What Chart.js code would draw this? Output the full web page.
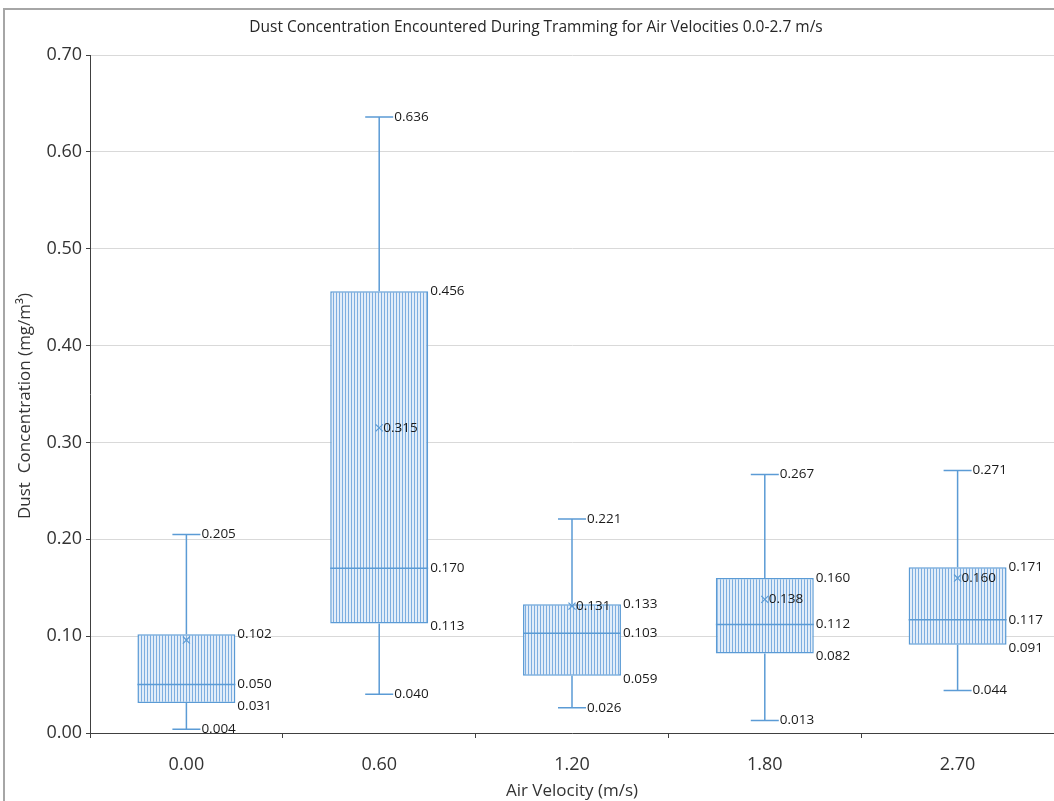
<!DOCTYPE html>
<html>
<head>
<meta charset="utf-8">
<script src="https://cdn.jsdelivr.net/npm/chart.js@4"></script>
<style>
  html, body { margin: 0; padding: 0; background: #fff; }
  #wrap { width: 1054px; height: 801px; }
</style>
</head>
<body>
<div id="wrap"><canvas id="boxChart" width="1054" height="801"></canvas></div>
<script>
const categories = ["0.00", "0.60", "1.20", "1.80", "2.70"];
const mins    = [0.004, 0.040, 0.026, 0.013, 0.044];
const q1s     = [0.031, 0.113, 0.059, 0.082, 0.091];
const medians = [0.050, 0.170, 0.103, 0.112, 0.117];
const q3s     = [0.102, 0.456, 0.133, 0.160, 0.171];
const maxs    = [0.205, 0.636, 0.221, 0.267, 0.271];
const means   = [0.096, 0.315, 0.131, 0.138, 0.160];
const showMeanLabel = [false, true, true, true, true];
const yTicks = [0, 0.1, 0.2, 0.3, 0.4, 0.5, 0.6, 0.7];

const BLUE = "#5B9BD5";
const LABEL_FONT = "13.5px 'Open Sans'";

function stripePattern() {
    const c = document.createElement("canvas");
    c.width = 3; c.height = 4;
    const g = c.getContext("2d");
    g.fillStyle = "#e2edf9";
    g.fillRect(0, 0, 3, 4);
    g.fillStyle = "#7eaee0";
    g.fillRect(0, 0, 1, 4);
    return g.createPattern(c, "repeat");
}

// whiskers, caps, median lines and value labels, placed through the scales
const boxExtras = {
    id: "boxExtras",
    afterDatasetsDraw(chart) {
        const ctx = chart.ctx;
        const y = chart.scales.y;
        const bars = chart.getDatasetMeta(0).data;
        ctx.save();
        ctx.strokeStyle = BLUE;
        ctx.lineWidth = 1.5;
        bars.forEach((bar, i) => {
            const cx = bar.x, half = bar.width / 2, cap = 14;
            const yMin = y.getPixelForValue(mins[i]);
            const yMax = y.getPixelForValue(maxs[i]);
            const yQ1 = y.getPixelForValue(q1s[i]);
            const yQ3 = y.getPixelForValue(q3s[i]);
            const yMed = y.getPixelForValue(medians[i]);
            ctx.beginPath();
            ctx.moveTo(cx, yQ3); ctx.lineTo(cx, yMax);
            ctx.moveTo(cx, yQ1); ctx.lineTo(cx, yMin);
            ctx.moveTo(cx - cap, yMax); ctx.lineTo(cx + cap, yMax);
            ctx.moveTo(cx - cap, yMin); ctx.lineTo(cx + cap, yMin);
            ctx.moveTo(cx - half, yMed); ctx.lineTo(cx + half, yMed);
            ctx.stroke();

            ctx.fillStyle = "#1a1a1a";
            ctx.font = LABEL_FONT;
            ctx.textAlign = "left";
            ctx.textBaseline = "middle";
            ctx.fillText(maxs[i].toFixed(3), cx + cap + 1, yMax);
            ctx.fillText(mins[i].toFixed(3), cx + cap + 1, yMin);
            ctx.fillText(q3s[i].toFixed(3), cx + half + 2, yQ3);
            ctx.fillText(medians[i].toFixed(3), cx + half + 2, yMed);
            ctx.fillText(q1s[i].toFixed(3), cx + half + 2, yQ1 + 3);
            if (showMeanLabel[i]) {
                ctx.fillText(means[i].toFixed(3), cx + 4, y.getPixelForValue(means[i]));
            }
        });
        ctx.restore();
    }
};

// outer frame, chart title and y axis title
const frame = {
    id: "frame",
    beforeDraw(chart) {
        const ctx = chart.ctx;
        ctx.save();
        ctx.strokeStyle = "#a6a6a6";
        ctx.lineWidth = 2;
        ctx.beginPath();
        ctx.moveTo(4, 801); ctx.lineTo(4, 9); ctx.lineTo(1054, 9);
        ctx.stroke();
        ctx.fillStyle = "#262626";
        ctx.font = "15.5px 'Open Sans'";
        ctx.textAlign = "center";
        ctx.textBaseline = "middle";
        ctx.fillText("Dust Concentration Encountered During Tramming for Air Velocities 0.0-2.7 m/s", 536, 28);

        ctx.fillStyle = "#333";
        ctx.font = "17px 'Open Sans'";
        ctx.translate(25, 406);
        ctx.rotate(-Math.PI / 2);
        ctx.fillText("Dust  Concentration (mg/m³)", 0, 0);
        ctx.restore();
    }
};

new Chart(document.getElementById("boxChart"), {
    data: {
        labels: categories,
        datasets: [
            {
                type: "bar",
                order: 2,
                data: q1s.map((q, i) => [q, q3s[i]]),
                backgroundColor: stripePattern(),
                borderColor: BLUE,
                borderWidth: 1.5,
                borderSkipped: false,
                barPercentage: 0.508,
                categoryPercentage: 1
            },
            {
                type: "line",
                order: 1,
                data: means,
                showLine: false,
                pointStyle: "crossRot",
                pointRadius: 5,
                pointBorderColor: BLUE,
                pointBorderWidth: 1.2,
                pointBackgroundColor: BLUE
            }
        ]
    },
    options: {
        responsive: false,
        animation: false,
        layout: { autoPadding: false, padding: { top: 55, left: 0, right: 0, bottom: 0 } },
        plugins: { legend: { display: false }, tooltip: { enabled: false }, title: { display: false } },
        scales: {
            x: {
                type: "category",
                offset: true,
                grid: { display: true, offset: true, drawOnChartArea: false, tickLength: 5, tickColor: "#404040" },
                border: { color: "#404040", width: 1 },
                ticks: { color: "#333", font: { family: "'Open Sans'", size: 18 }, padding: 16 },
                title: { display: true, text: "Air Velocity (m/s)", color: "#333",
                         font: { family: "'Open Sans'", size: 17 }, padding: { top: 7, bottom: 0 } },
                afterFit(scale) { scale.height = 68; scale.paddingLeft = 0; scale.paddingRight = 0; }
            },
            y: {
                min: 0, max: 0.7,
                afterBuildTicks(scale) { scale.ticks = yTicks.map(v => ({ value: v })); },
                grid: { color: "#d9d9d9", tickColor: "#404040", tickLength: 4 },
                border: { color: "#404040", width: 1 },
                ticks: { color: "#333", font: { family: "'Open Sans'", size: 18 }, padding: 4,
                         callback: v => v.toFixed(2) },
                afterFit(scale) { scale.width = 90; scale.paddingLeft = 0; scale.paddingRight = 0; }
            }
        }
    },
    plugins: [frame, boxExtras]
});
</script>
</body>
</html>
